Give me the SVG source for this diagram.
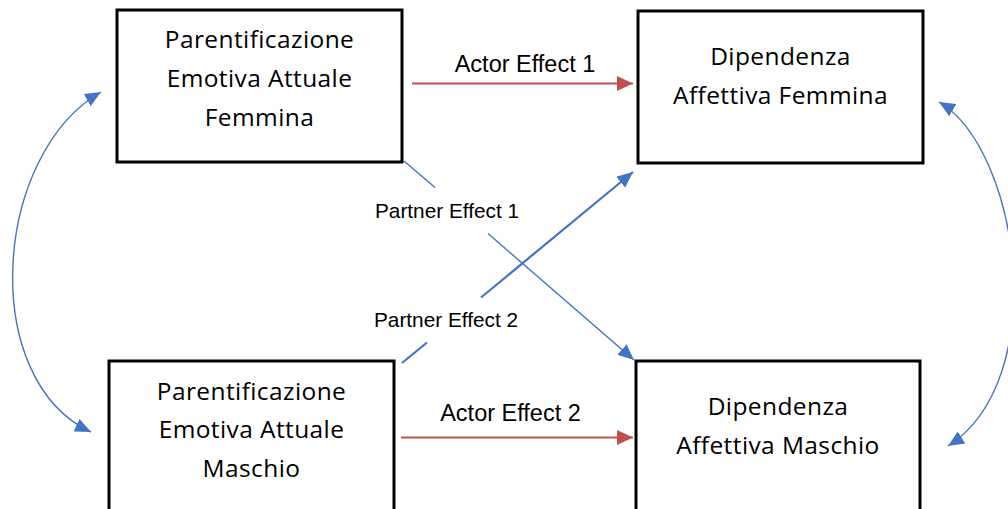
<svg xmlns="http://www.w3.org/2000/svg" width="1008" height="509" viewBox="0 0 1008 509">
<style>
.box{fill:#fff;stroke:#000;stroke-width:3}
.bt{font-family:"Open Sans","Noto Sans",sans-serif;font-size:24.5px;letter-spacing:0.4px;fill:#000;text-anchor:middle}
.lab{font-family:"Liberation Sans",Arial,sans-serif;fill:#000;text-anchor:middle}
.red{stroke:#C0504D;stroke-width:2;fill:none}
.blue{stroke:#4472C4;fill:none}
</style>
<defs>
<marker id="ar" markerUnits="userSpaceOnUse" markerWidth="16" markerHeight="15" viewBox="0 0 16 15" refX="16" refY="7.5" orient="auto"><path d="M0,0 L16,7.5 L0,15 z" fill="#C0504D"/></marker>
<marker id="ab" markerUnits="userSpaceOnUse" markerWidth="16" markerHeight="14" viewBox="0 0 16 14" refX="16" refY="7" orient="auto-start-reverse"><path d="M0,0 L16,7 L0,14 z" fill="#4472C4"/></marker>
</defs>
<g id="connectors">
<path class="red" d="M412,83.5 L633,83.5" marker-end="url(#ar)"/>
<path class="red" d="M401,437.5 L633,437.5" marker-end="url(#ar)"/>
<path class="blue" stroke-width="1.4" d="M404,161 L435,187.5"/>
<path class="blue" stroke-width="1.4" d="M488,233.5 L634,360" marker-end="url(#ab)"/>
<path class="blue" stroke-width="2.2" d="M402,363 L427,342.5"/>
<path class="blue" stroke-width="2.2" d="M481,297.5 L633,172" marker-end="url(#ab)"/>
<path class="blue" stroke-width="1.4" d="M101,92 C-7.3,154.5 -22.3,379.1 91,432" marker-start="url(#ab)" marker-end="url(#ab)"/>
<path class="blue" stroke-width="1.4" d="M939,102 C1020,150 1052,380 948,446" marker-start="url(#ab)" marker-end="url(#ab)"/>
<text class="lab" font-size="23.5" x="525" y="71.7">Actor Effect 1</text>
<text class="lab" font-size="23.5" x="510.5" y="420.7">Actor Effect 2</text>
<text class="lab" font-size="20.8" x="447" y="218.3">Partner Effect 1</text>
<text class="lab" font-size="20.8" x="446" y="326.7">Partner Effect 2</text>
</g>
<g id="pefa_f">
<rect class="box" x="117" y="10" width="285" height="152"/>
<text class="bt" x="259.5" y="48">Parentificazione</text>
<text class="bt" x="259.5" y="87">Emotiva Attuale</text>
<text class="bt" x="259.5" y="126">Femmina</text>
</g>
<g id="da_f">
<rect class="box" x="638" y="11" width="285" height="152"/>
<text class="bt" x="780.5" y="65">Dipendenza</text>
<text class="bt" x="780.5" y="104">Affettiva Femmina</text>
</g>
<g id="pefa_m">
<rect class="box" x="109" y="361" width="285" height="170"/>
<text class="bt" x="251.5" y="400">Parentificazione</text>
<text class="bt" x="251.5" y="438">Emotiva Attuale</text>
<text class="bt" x="251.5" y="477">Maschio</text>
</g>
<g id="da_m">
<rect class="box" x="636" y="361" width="284" height="170"/>
<text class="bt" x="778" y="415">Dipendenza</text>
<text class="bt" x="778" y="454">Affettiva Maschio</text>
</g>
</svg>
